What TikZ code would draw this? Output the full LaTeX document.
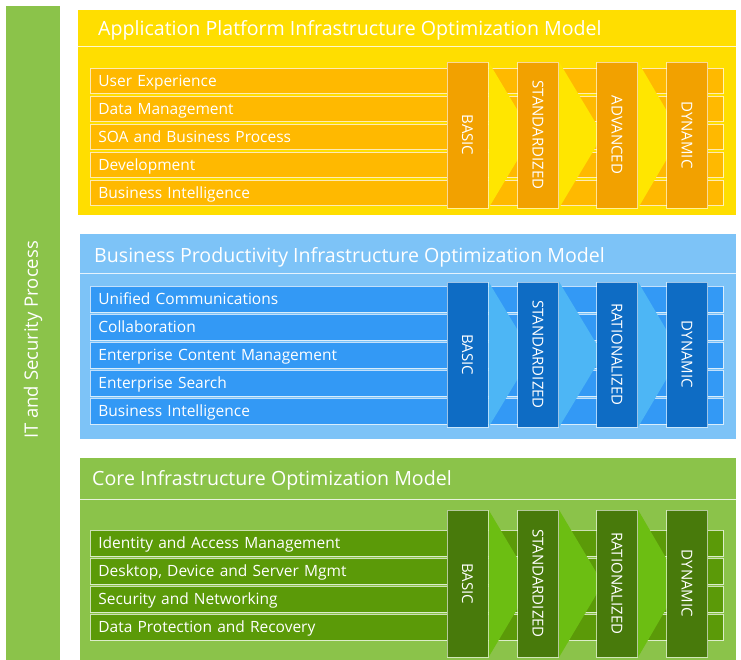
\documentclass[tikz,border=0pt]{standalone}
\usepackage{fontspec}
\setmainfont{Open Sans}
\definecolor{sidebar}{HTML}{8BC34A}
\definecolor{apback}{HTML}{FFDE00}
\definecolor{aprow}{HTML}{FFB900}
\definecolor{apcol}{HTML}{F2A100}
\definecolor{apchev}{HTML}{FFE600}
\definecolor{bpback}{HTML}{7DC3F7}
\definecolor{bprow}{HTML}{3399F5}
\definecolor{bpcol}{HTML}{0E6CC4}
\definecolor{bpchev}{HTML}{4DB6F5}
\definecolor{ciback}{HTML}{8BC34A}
\definecolor{cirow}{HTML}{5B9A08}
\definecolor{cicol}{HTML}{487A0B}
\definecolor{cichev}{HTML}{6CBE12}
\pgfdeclarelayer{back}
\pgfdeclarelayer{mid}
\pgfsetlayers{back,mid,main}

\begin{document}
\begin{tikzpicture}[x=1pt,y=-1pt,
    sepline/.style={white, opacity=0.8, line width=0.8pt},
    modeltitle/.style={anchor=west, text=white, inner sep=0pt,
      font=\fontsize{19.6}{20}\selectfont},
    itemrow/.style={anchor=north west, fill=#1, draw=white, draw opacity=0.7,
      line width=0.8pt, text=white, minimum height=25.5pt, text width=617pt,
      text height=12pt, text depth=2pt,
      inner xsep=8pt, inner ysep=0pt, align=left,
      font=\fontsize{15.5}{16}\selectfont},
    stage/.style={rotate=-90, fill=#1, draw=white, draw opacity=0.6,
      line width=0.8pt, text=white, minimum height=41pt, inner sep=0pt,
      font=\fontsize{15}{15}\selectfont}]
    \useasboundingbox (0,0) rectangle (741,660);
    \begin{pgfonlayer}{back}
    \fill[white] (0,0) rectangle (741,660);
% left bar
    \fill[sidebar] (6,6) rectangle (60,662);
    \node[rotate=90, text=white, font=\fontsize{18.5}{19}\selectfont] (itsec) at (33,340) {IT and Security Process};
% application platform panel
    \fill[apback] (78,10) rectangle (736,215);
    \draw[sepline] (78,46) -- (736,46);
    \node[modeltitle] (aptitle) at (98,30) {Application Platform Infrastructure Optimization Model};
    \node[itemrow=aprow] (ap1) at (90,68)  {User Experience};
    \node[itemrow=aprow] (ap2) at (90,96)  {Data Management};
    \node[itemrow=aprow] (ap3) at (90,124) {SOA and Business Process};
    \node[itemrow=aprow] (ap4) at (90,152) {Development};
    \node[itemrow=aprow] (ap5) at (90,180) {Business Intelligence};
% business productivity panel
    \fill[bpback] (80,234) rectangle (736,439);
    \draw[sepline] (80,273) -- (736,273);
    \node[modeltitle] (bptitle) at (94,257) {Business Productivity Infrastructure Optimization Model};
    \node[itemrow=bprow] (bp1) at (90,286) {Unified Communications};
    \node[itemrow=bprow] (bp2) at (90,314) {Collaboration};
    \node[itemrow=bprow] (bp3) at (90,342) {Enterprise Content Management};
    \node[itemrow=bprow] (bp4) at (90,370) {Enterprise Search};
    \node[itemrow=bprow] (bp5) at (90,398) {Business Intelligence};
% core panel
    \fill[ciback] (80,458) rectangle (736,662);
    \draw[sepline] (80,499) -- (736,499);
    \node[modeltitle] (cititle) at (92,480) {Core Infrastructure Optimization Model};
    \node[itemrow=cirow] (ci1) at (90,530) {Identity and Access Management};
    \node[itemrow=cirow] (ci2) at (90,558) {Desktop, Device and Server Mgmt};
    \node[itemrow=cirow] (ci3) at (90,586) {Security and Networking};
    \node[itemrow=cirow] (ci4) at (90,614) {Data Protection and Recovery};
    \end{pgfonlayer}
% maturity stages
    \node[stage=apcol, minimum width=146pt] (apbasic) at (467.5,135) {BASIC};
    \node[stage=apcol, minimum width=146pt] (apstd)   at (538,135)   {STANDARDIZED};
    \node[stage=apcol, minimum width=146pt] (apadv)   at (617,135)   {ADVANCED};
    \node[stage=apcol, minimum width=146pt] (apdyn)   at (687,135)   {DYNAMIC};
    \node[stage=bpcol, minimum width=145pt] (bpbasic) at (467.5,354.5) {BASIC};
    \node[stage=bpcol, minimum width=145pt] (bpstd)   at (538,354.5)   {STANDARDIZED};
    \node[stage=bpcol, minimum width=145pt] (bprat)   at (617,354.5)   {RATIONALIZED};
    \node[stage=bpcol, minimum width=145pt] (bpdyn)   at (687,354.5)   {DYNAMIC};
    \node[stage=cicol, minimum width=147pt] (cibasic) at (467.5,583.5) {BASIC};
    \node[stage=cicol, minimum width=147pt] (cistd)   at (538,583.5)   {STANDARDIZED};
    \node[stage=cicol, minimum width=147pt] (cirat)   at (617,583.5)   {RATIONALIZED};
    \node[stage=cicol, minimum width=147pt] (cidyn)   at (687,583.5)   {DYNAMIC};
% chevrons between stages
    \begin{pgfonlayer}{mid}
    \fill[apchev] (apbasic.north west) -- ([xshift=44pt]apbasic.north) -- (apbasic.north east) -- cycle;
    \fill[apchev] (apstd.north west) -- ([xshift=44pt]apstd.north) -- (apstd.north east) -- cycle;
    \fill[apchev] (apadv.north west) -- ([xshift=43pt]apadv.north) -- (apadv.north east) -- cycle;
    \fill[bpchev] (bpbasic.north west) -- ([xshift=44pt]bpbasic.north) -- (bpbasic.north east) -- cycle;
    \fill[bpchev] (bpstd.north west) -- ([xshift=44pt]bpstd.north) -- (bpstd.north east) -- cycle;
    \fill[bpchev] (bprat.north west) -- ([xshift=43pt]bprat.north) -- (bprat.north east) -- cycle;
    \fill[cichev] (cibasic.north west) -- ([xshift=44pt]cibasic.north) -- (cibasic.north east) -- cycle;
    \fill[cichev] (cistd.north west) -- ([xshift=44pt]cistd.north) -- (cistd.north east) -- cycle;
    \fill[cichev] (cirat.north west) -- ([xshift=43pt]cirat.north) -- (cirat.north east) -- cycle;
    \end{pgfonlayer}
\end{tikzpicture}
\end{document}
